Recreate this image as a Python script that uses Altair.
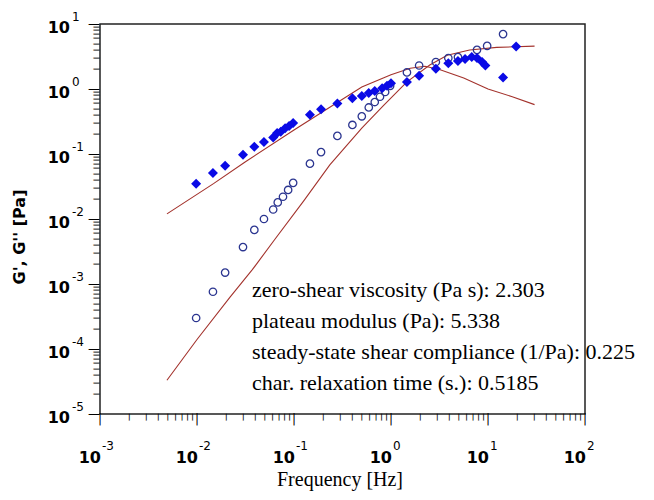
import altair as alt
import pandas as pd

# ---- data ----
# G'' (loss modulus), filled diamonds
freq_gpp = [0.0098, 0.0146, 0.0195, 0.0298, 0.039, 0.049, 0.061, 0.067, 0.073, 0.081,
            0.089, 0.098, 0.146, 0.19, 0.28, 0.40, 0.50, 0.59, 0.68, 0.81, 0.91, 1.0,
            1.46, 1.95, 2.9, 3.9, 4.9, 5.8, 6.8, 7.7, 8.7, 9.4, 14.3, 19.5]
g_pp = [0.035, 0.051, 0.066, 0.097, 0.129, 0.153, 0.18, 0.21, 0.22, 0.25,
        0.27, 0.30, 0.40, 0.49, 0.60, 0.72, 0.78, 0.87, 0.93, 1.03, 1.12, 1.23,
        1.28, 1.6, 2.05, 2.5, 2.7, 2.9, 3.1, 3.0, 2.6, 2.3, 1.5, 4.5]

# G' (storage modulus), open circles
freq_gp = [0.0098, 0.0146, 0.0195, 0.0298, 0.039, 0.049, 0.061, 0.068, 0.077, 0.087,
           0.098, 0.146, 0.19, 0.28, 0.40, 0.50, 0.59, 0.68, 0.77, 0.87, 0.98, 1.46,
           1.95, 2.9, 3.9, 4.9, 7.7, 9.8, 14.3]
g_p = [0.0003, 0.00076, 0.0015, 0.0037, 0.0068, 0.010, 0.014, 0.018, 0.022, 0.028,
       0.036, 0.071, 0.107, 0.19, 0.28, 0.38, 0.52, 0.63, 0.76, 0.9, 1.12, 1.8,
       2.3, 2.6, 3.0, 3.1, 4.0, 4.6, 7.0]

# model curves (red lines)
line_f_pp = [0.0049, 0.0148, 0.0316, 0.1, 0.234, 0.5, 1.0, 1.58, 2.24, 3.16, 5.62, 10.0, 17.8, 30.2]
line_g_pp = [0.012, 0.035, 0.076, 0.234, 0.525, 1.07, 1.66, 2.09, 2.24, 2.0, 1.48, 1.0, 0.76, 0.575]
line_f_p = [0.0049, 0.01, 0.0219, 0.0372, 0.063, 0.126, 0.234, 0.5, 0.83, 1.46, 2.51, 3.8, 6.46, 12.3, 30.2]
line_g_p = [3.3e-5, 0.00014, 0.00063, 0.00166, 0.0048, 0.019, 0.068, 0.25, 0.55, 1.29, 2.34, 3.31, 3.98, 4.37, 4.57]

# tick labels
decades_x = [0.001, 0.01, 0.1, 1, 10, 100]
exps_x = ["-3", "-2", "-1", "0", "1", "2"]
decades_y = [1e-5, 1e-4, 1e-3, 1e-2, 1e-1, 1, 10]
exps_y = ["-5", "-4", "-3", "-2", "-1", "0", "1"]
minor_mult = [2, 3, 4, 5, 6, 7, 8, 9]

annotation_lines = [
    "zero-shear viscosity (Pa s): 2.303",
    "plateau modulus (Pa): 5.338",
    "steady-state shear compliance (1/Pa): 0.225",
    "char. relaxation time (s.): 0.5185",
]

x_title = "Frequency [Hz]"
y_title = "G', G'' [Pa]"

# ---- build tables ----
df_pp = pd.DataFrame({"f": freq_gpp, "g": g_pp})
df_p = pd.DataFrame({"f": freq_gp, "g": g_p})
df_lines = pd.concat([
    pd.DataFrame({"f": line_f_pp, "g": line_g_pp, "s": "Gpp"}),
    pd.DataFrame({"f": line_f_p, "g": line_g_p, "s": "Gp"}),
])
df_xl = pd.DataFrame({"f": decades_x, "e": exps_x})
df_yl = pd.DataFrame({"g": decades_y, "e": exps_y})
df_ann = pd.DataFrame({"t": ["\n".join(annotation_lines)]})
df_mx = pd.DataFrame({"f": [d * m for d in decades_x[:-1] for m in minor_mult]})
df_my = pd.DataFrame({"g": [d * m for d in decades_y[:-1] for m in minor_mult]})

W, H = 485, 390
xscale = alt.Scale(type="log", domain=[0.001, 100], nice=False)
yscale = alt.Scale(type="log", domain=[1e-5, 10], nice=False)

X = alt.X("f:Q", scale=xscale, axis=None)
Y = alt.Y("g:Q", scale=yscale, axis=None)

lines = alt.Chart(df_lines).mark_line(color="#a3322c", strokeWidth=1.1).encode(
    x=X, y=Y, detail="s:N")

circles = alt.Chart(df_p).mark_point(shape="circle", filled=False, size=55,
                                     color="#2b3590", strokeWidth=1.3, opacity=1).encode(
    x=X, y=Y)

diamonds = alt.Chart(df_pp).mark_point(shape="diamond", filled=True, size=100,
                                       color="#0a0ae6", opacity=1).encode(
    x=X, y=Y)

# axis ticks drawn as glyph marks placed through the scales
major_x = alt.Chart(df_xl).mark_text(font="DejaVu Sans", fontSize=12, align="center",
                                     baseline="alphabetic", color="black").encode(
    x=X, y=alt.value(H + 9), text=alt.value("|"))
minor_x = alt.Chart(df_mx).mark_text(font="DejaVu Sans", fontSize=7, fontWeight="bold",
                                     align="center", baseline="alphabetic",
                                     color="black").encode(
    x=X, y=alt.value(H + 5), text=alt.value("|"))
major_y = alt.Chart(df_yl).mark_text(font="DejaVu Sans", fontSize=12, align="right",
                                     baseline="alphabetic", dy=3.5,
                                     color="black").encode(
    y=Y, x=alt.value(0), text=alt.value("\u2014"))
minor_y = alt.Chart(df_my).mark_text(font="DejaVu Sans", fontSize=7, fontWeight="bold",
                                     align="right", baseline="alphabetic", dy=2,
                                     color="black").encode(
    y=Y, x=alt.value(0), text=alt.value("\u2014"))

xl_base = alt.Chart(df_xl).mark_text(font="DejaVu Sans", fontWeight="bold", fontSize=16,
                                     align="right", baseline="alphabetic", dx=1,
                                     color="black").encode(
    x=X, y=alt.value(H + 49), text=alt.value("10"))
xl_exp = alt.Chart(df_xl).mark_text(font="DejaVu Sans", fontSize=12,
                                    align="left", baseline="alphabetic", dx=2,
                                    color="black").encode(
    x=X, y=alt.value(H + 36), text="e:N")

yl_base = alt.Chart(df_yl).mark_text(font="DejaVu Sans", fontWeight="bold", fontSize=16,
                                     align="right", baseline="alphabetic", dy=9,
                                     color="black").encode(
    x=alt.value(-30), y=Y, text=alt.value("10"))
yl_exp = alt.Chart(df_yl).mark_text(font="DejaVu Sans", fontSize=12,
                                    align="left", baseline="alphabetic", dy=-3,
                                    color="black").encode(
    x=alt.value(-28), y=Y, text="e:N")

ann = alt.Chart(df_ann).mark_text(font="Liberation Serif", fontSize=22, align="left",
                                  baseline="alphabetic", lineBreak="\n", lineHeight=31,
                                  color="black").encode(
    x=alt.value(152), y=alt.value(273), text="t:N")

xt = alt.Chart(df_ann).mark_text(font="Liberation Serif", fontSize=20, align="center",
                                 baseline="alphabetic", color="black").encode(
    x=alt.value(240), y=alt.value(H + 72), text=alt.value(x_title))
yt = alt.Chart(df_ann).mark_text(font="DejaVu Sans", fontWeight="bold", fontSize=16,
                                 align="center", baseline="middle", angle=270,
                                 color="black").encode(
    x=alt.value(-80), y=alt.value(213), text=alt.value(y_title))

chart = alt.layer(lines, circles, diamonds,
                  major_x, minor_x, major_y, minor_y,
                  xl_base, xl_exp, yl_base, yl_exp, ann, xt, yt).properties(
    width=W, height=H,
    autosize=alt.AutoSizeParams(type="none"),
    padding={"left": 92, "top": 16, "right": 61, "bottom": 78},
).configure_view(stroke="#222222", strokeWidth=1.5)

chart.save("out.html", embed_options={"renderer": "svg", "actions": False})
